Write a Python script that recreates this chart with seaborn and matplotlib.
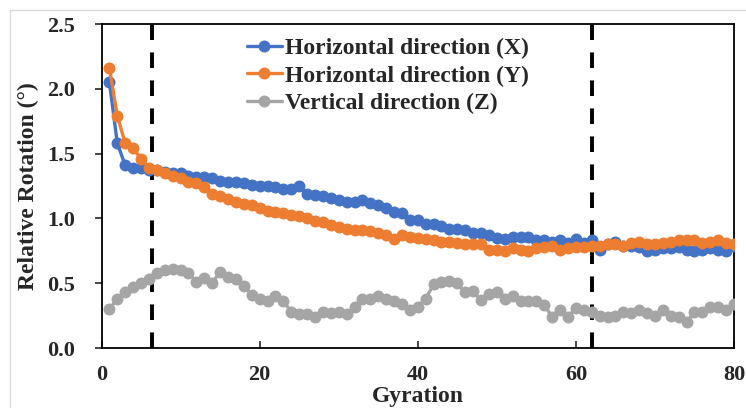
import matplotlib
matplotlib.use("Agg")
import matplotlib.pyplot as plt
from matplotlib.lines import Line2D
import seaborn as sns
import pandas as pd
import numpy as np

gyration = list(range(1, 81))
horiz_x = [2.05, 1.58, 1.41, 1.39, 1.39, 1.37, 1.37, 1.36, 1.35, 1.35,
           1.33, 1.32, 1.32, 1.31, 1.29, 1.28, 1.28, 1.27, 1.26, 1.25,
           1.25, 1.24, 1.23, 1.23, 1.25, 1.19, 1.18, 1.17, 1.16, 1.14,
           1.13, 1.13, 1.14, 1.12, 1.10, 1.08, 1.05, 1.04, 0.99, 0.99,
           0.96, 0.96, 0.94, 0.92, 0.92, 0.91, 0.89, 0.89, 0.87, 0.85,
           0.84, 0.86, 0.86, 0.86, 0.83, 0.83, 0.82, 0.83, 0.81, 0.84,
           0.81, 0.83, 0.76, 0.80, 0.82, 0.79, 0.79, 0.78, 0.75, 0.76,
           0.77, 0.77, 0.78, 0.76, 0.75, 0.76, 0.77, 0.76, 0.75, 0.79]
horiz_y = [2.16, 1.79, 1.58, 1.54, 1.46, 1.39, 1.37, 1.35, 1.33, 1.31,
           1.28, 1.27, 1.24, 1.19, 1.17, 1.15, 1.13, 1.11, 1.10, 1.08,
           1.06, 1.05, 1.04, 1.03, 1.02, 1.00, 0.98, 0.97, 0.95, 0.93,
           0.92, 0.91, 0.91, 0.90, 0.89, 0.87, 0.84, 0.87, 0.86, 0.85,
           0.84, 0.83, 0.82, 0.82, 0.81, 0.80, 0.80, 0.80, 0.76, 0.76,
           0.75, 0.77, 0.76, 0.75, 0.77, 0.78, 0.79, 0.76, 0.77, 0.78,
           0.78, 0.79, 0.79, 0.80, 0.80, 0.79, 0.81, 0.82, 0.80, 0.80,
           0.81, 0.82, 0.83, 0.83, 0.83, 0.81, 0.82, 0.83, 0.81, 0.80]
vert_z = [0.30, 0.38, 0.43, 0.47, 0.50, 0.53, 0.58, 0.60, 0.61, 0.60,
          0.58, 0.51, 0.54, 0.50, 0.59, 0.55, 0.53, 0.48, 0.41, 0.38,
          0.36, 0.40, 0.36, 0.28, 0.26, 0.26, 0.24, 0.28, 0.27, 0.28,
          0.26, 0.32, 0.38, 0.38, 0.40, 0.38, 0.36, 0.34, 0.29, 0.32,
          0.38, 0.49, 0.51, 0.52, 0.50, 0.43, 0.44, 0.37, 0.42, 0.43,
          0.38, 0.40, 0.36, 0.36, 0.36, 0.33, 0.24, 0.29, 0.24, 0.31,
          0.29, 0.28, 0.25, 0.24, 0.25, 0.28, 0.27, 0.29, 0.27, 0.25,
          0.29, 0.25, 0.24, 0.20, 0.28, 0.28, 0.32, 0.32, 0.29, 0.34]
series_names = ["Horizontal direction (X)", "Horizontal direction (Y)", "Vertical direction (Z)"]
series_colors = ["#4472C4", "#ED7D31", "#A5A5A5"]
stage_bounds = [6.4, 62.0]
x_ticks = [0, 20, 40, 60, 80]
y_ticks = [0.0, 0.5, 1.0, 1.5, 2.0, 2.5]

df = pd.DataFrame({
    "Gyration": gyration * 3,
    "value": horiz_x + horiz_y + vert_z,
    "series": np.repeat(series_names, len(gyration)),
})

sns.set_style("ticks")
plt.rcParams["font.family"] = ["Liberation Serif", "DejaVu Serif"]
plt.rcParams["font.weight"] = "bold"

fig = plt.figure(figsize=(7.46, 4.08), dpi=100)
ax = fig.add_axes([101.5 / 746, 60 / 408, 632.5 / 746, 324 / 408])

for xb in stage_bounds:
    ax.axvline(xb, color="black", lw=2.8, linestyle=(0, (4.0, 3.2)), zorder=1)

palette = dict(zip(series_names, series_colors))
sns.lineplot(data=df, x="Gyration", y="value", hue="series", hue_order=series_names,
             palette=palette, marker="o", markersize=8.6, markeredgewidth=0,
             linewidth=2.4, ax=ax, legend=False, zorder=3)

ax.set_xlim(0, 80)
ax.set_ylim(0, 2.5)
ax.set_xticks(x_ticks)
ax.set_yticks(y_ticks)
ax.set_yticklabels([f"{v:.1f}" for v in y_ticks])
ax.tick_params(axis="x", direction="in", length=5, width=1.2, pad=12, labelsize=16)
ax.tick_params(axis="y", direction="out", length=5, width=1.2, pad=14, labelsize=16)
for lab in ax.get_xticklabels() + ax.get_yticklabels():
    lab.set_fontweight("bold")
for s in ax.spines.values():
    s.set_visible(True)
    s.set_linewidth(1.3)
    s.set_color("black")

ax.set_xlabel("Gyration", fontsize=17, fontweight="bold", labelpad=1)
ax.set_ylabel("Relative Rotation (°)", fontsize=17, fontweight="bold", labelpad=6)

handles = [Line2D([0], [0], color=c, lw=2.4, marker="o", markersize=8.6, markeredgewidth=0)
           for c in series_colors]
leg = ax.legend(handles, series_names, loc="upper left", bbox_to_anchor=(0.2296, 0.957),
                frameon=False, borderaxespad=0, borderpad=0, handlelength=1.5,
                handletextpad=0.12, labelspacing=0.24,
                prop={"family": ["Liberation Serif"], "weight": "bold", "size": 17})

# faint chart border (Excel chart area)
fig.add_artist(Line2D([10 / 746, 10 / 746], [0, 1 - 10 / 408], transform=fig.transFigure,
                      color="#d9d9d9", lw=1))
fig.add_artist(Line2D([10 / 746, 1], [1 - 10 / 408, 1 - 10 / 408], transform=fig.transFigure,
                      color="#d9d9d9", lw=1))

fig.savefig("out.png", dpi=100)
